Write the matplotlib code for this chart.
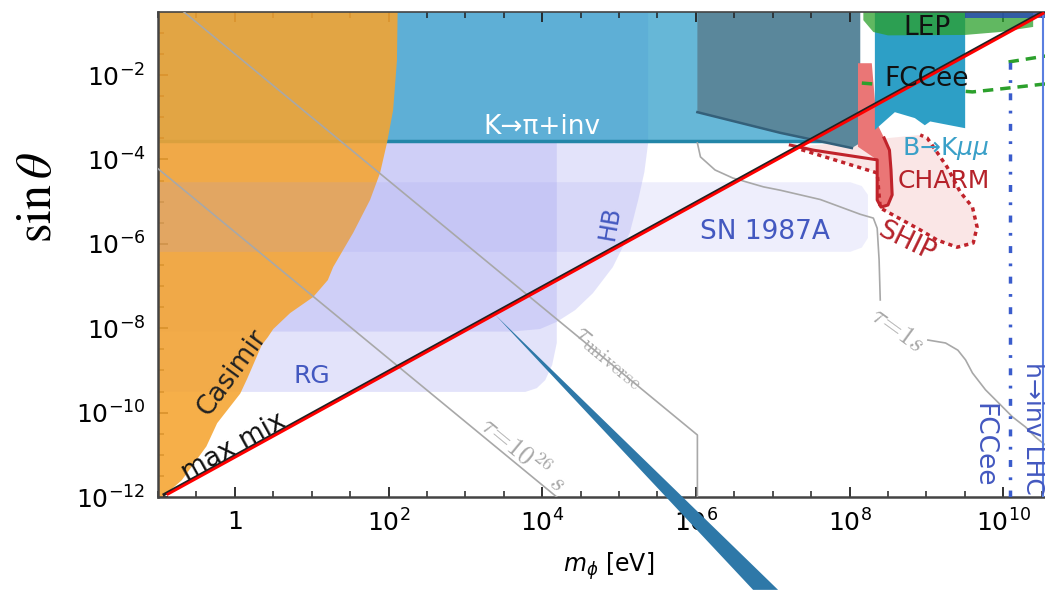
import numpy as np
import matplotlib
matplotlib.use("Agg")
import matplotlib.pyplot as plt
from matplotlib.ticker import FixedLocator, FixedFormatter, NullFormatter

# all boundaries below are (log10 m_phi [eV], log10 sin(theta))

# Casimir / fifth force
casimir_lm = [-0.94, -0.69, -0.37, -0.23, 0.07, 0.16, 0.35, 0.43, 0.50, 0.72, 1.02, 1.21,
              1.28, 1.54, 1.76, 1.89, 1.98, 2.06, 2.11, 2.12, -1.2, -1.2]
casimir_ls = [-12.0, -11.6, -10.8, -10.25, -9.55, -9.2, -8.4, -8.21, -8.02, -7.64, -7.26, -6.86,
              -6.55, -5.74, -4.96, -4.32, -3.61, -2.83, -1.65, -0.3, -0.3, -12.0]

# K -> pi + invisible
kpi_lm = [-1.2, 8.03, 8.03, -1.2]
kpi_ls = [-3.57, -3.57, -0.3, -0.3]

# stellar bounds
hb_lm = [-1.2, 5.38, 5.38, 5.33, 5.25, 5.14, 4.92, 4.66, 4.43, 4.19, 3.97, 3.6, -1.2]
hb_ls = [-0.3, -0.3, -3.6, -4.3, -4.96, -5.74, -6.55, -7.17, -7.57, -7.85, -8.02, -8.08, -8.08]
rg_lm = [-1.2, 4.19, 4.19, 4.13, 4.04, 3.93, 3.78, -1.2]
rg_ls = [-3.57, -3.57, -8.35, -8.87, -9.23, -9.42, -9.51, -9.51]
sn_lm = [-1.2, 8.01, 8.16, 8.24, 8.24, 8.16, 8.01, -1.2]
sn_ls = [-4.54, -4.54, -4.63, -4.84, -5.86, -6.09, -6.19, -6.19]

# beam dump / meson decays
box_lm = [6.02, 8.14, 8.14, 8.03, 7.10, 6.02]
box_ls = [-0.3, -0.3, -3.61, -3.73, -3.37, -2.88]
box_edge_lm = [6.02, 7.10, 8.03]
box_edge_ls = [-2.88, -3.37, -3.73]
charm_lm = [8.11, 8.29, 8.33, 8.37, 8.45, 8.52, 8.54, 8.555, 8.50, 8.41, 8.36, 8.36, 8.11]
charm_ls = [-1.72, -1.72, -2.59, -3.19, -3.49, -3.78, -4.25, -4.84, -5.08, -5.13, -4.96, -4.01, -3.7]
charm_edge_lm = [7.23, 7.53, 8.36, 8.36, 8.41, 8.50, 8.555, 8.54, 8.52, 8.45]
charm_edge_ls = [-3.66, -3.78, -4.01, -4.96, -5.13, -5.08, -4.84, -4.25, -3.78, -3.49]
ship_lm = [7.27, 8.36, 8.40, 8.92, 9.14, 9.40, 9.61, 9.66, 9.60, 9.44, 9.27, 9.12, 9.01, 8.92]
ship_ls = [-3.71, -4.32, -5.15, -5.67, -5.91, -6.08, -5.98, -5.60, -5.13, -4.77, -4.18, -3.78, -3.49, -3.42]
bkmm_lm = [8.33, 9.505, 9.505, 9.05, 8.98, 8.85, 8.59, 8.33]
bkmm_ls = [-0.3, -0.3, -3.26, -3.10, -3.19, -3.02, -2.88, -3.30]

# colliders
lep_lm = [8.18, 10.39, 10.39, 9.96, 9.5, 8.5, 8.31, 8.18]
lep_ls = [-0.3, -0.3, -0.86, -0.98, -1.05, -1.06, -0.98, -0.7]
hinv_top_lm = [9.505, 10.8, 10.8, 9.505]
hinv_top_ls = [-0.3, -0.3, -0.65, -0.65]
fcc_dash1_lm = [8.16, 9.60, 9.96, 10.55]
fcc_dash1_ls = [-2.19, -2.40, -2.33, -2.21]
fcc_dash2_lm = [10.07, 10.55]
fcc_dash2_ls = [-1.69, -1.55]
fcc_hinv_lm = 10.09
lhc_hinv_lm = 10.52

# lifetime contours
tau_univ_lm = [-1.0, 6.02, 6.02]
tau_univ_ls = [0.0, -10.53, -12.0]
tau_26_lm = [-1.0, 4.19]
tau_26_ls = [-4.22, -12.0]
tau_1s_a_lm = [6.02, 6.06, 6.25, 6.48, 6.88, 7.10, 7.62, 8.14, 8.31, 8.36, 8.385, 8.40]
tau_1s_a_ls = [-3.61, -3.94, -4.25, -4.44, -4.65, -4.73, -4.95, -5.30, -5.39, -5.63, -6.38, -7.33]
tau_1s_b_lm = [9.02, 9.25, 9.41, 9.51, 9.60, 9.77, 9.94, 10.12, 10.29, 10.42, 10.55]
tau_1s_b_ls = [-8.28, -8.35, -8.52, -8.75, -9.06, -9.46, -9.77, -10.10, -10.34, -10.58, -10.77]

# maximal mixing and the benchmark line
maxmix_lm = [-0.92, 10.6]
maxmix_ls = [-11.94, -0.42]
red_lm = [-0.87, 10.52]
red_ls = [-11.93, -0.54]
pointer_lm = [3.385, 6.745, 7.07]
pointer_ls = [-7.675, -14.2, -14.2]

x_ticks = [0, 2, 4, 6, 8, 10]
x_tick_labels = ['1', '$10^{2}$', '$10^{4}$', '$10^{6}$', '$10^{8}$', '$10^{10}$']
y_ticks = [-12, -10, -8, -6, -4, -2]
y_tick_labels = ['$10^{-12}$', '$10^{-10}$', '$10^{-8}$', '$10^{-6}$', '$10^{-4}$', '$10^{-2}$']


def p(v):
    return 10.0 ** np.asarray(v, dtype=float)


def region(ax, lm, ls, **kw):
    ax.fill(p(lm), p(ls), lw=0, **kw)


fig = plt.figure(figsize=(10.45, 5.9), dpi=100)
ax = fig.add_axes([0.1512, 0.1576, 0.8632, 0.822])
ax.set_xscale('log')
ax.set_yscale('log')

lav = '#9a9af0'
region(ax, hb_lm, hb_ls, color=lav, alpha=0.27, zorder=0.5)
region(ax, rg_lm, rg_ls, color=lav, alpha=0.27, zorder=0.6)
region(ax, kpi_lm, kpi_ls, color='#2b9cc8', alpha=0.72, zorder=1)
ax.plot(p([-1.2, 8.03]), p([-3.57, -3.57]), color='#2386a8', lw=2.5, zorder=1.1)
region(ax, ship_lm, ship_ls, color='#f8dcdc', alpha=0.7, zorder=1.2)
region(ax, box_lm, box_ls, color='#5a879b', zorder=1.5)
ax.plot(p(box_edge_lm), p(box_edge_ls), color='#34607a', lw=1.8, zorder=1.55)
region(ax, charm_lm, charm_ls, color='#ea7676', zorder=1.6)
ax.plot(p(fcc_dash1_lm), p(fcc_dash1_ls), color='#2ca02c', lw=2.5, ls=(0, (3, 2)), zorder=1.62)
ax.plot(p(fcc_dash2_lm), p(fcc_dash2_ls), color='#2ca02c', lw=2.5, ls=(0, (3, 2)), zorder=1.62)
region(ax, bkmm_lm, bkmm_ls, color='#2d9fc6', zorder=1.65)
region(ax, lep_lm, lep_ls, color='#2ca02c', alpha=0.75, zorder=1.7)
region(ax, hinv_top_lm, hinv_top_ls, color='#2a4db0', alpha=0.85, zorder=1.75)
region(ax, casimir_lm, casimir_ls, color='#f5a430', alpha=0.88, zorder=2)
region(ax, sn_lm, sn_ls, color=lav, alpha=0.16, zorder=2.5)

ax.plot(p(charm_edge_lm), p(charm_edge_ls), color='#c0232b', lw=2.2, zorder=2.6)
ax.plot(p(ship_lm), p(ship_ls), color='#c0232b', lw=2.5, ls=(0, (1.2, 1.2)), zorder=2.6)

grey = '#a8a8a8'
for lm, ls in [(tau_univ_lm, tau_univ_ls), (tau_26_lm, tau_26_ls),
               (tau_1s_a_lm, tau_1s_a_ls), (tau_1s_b_lm, tau_1s_b_ls)]:
    ax.plot(p(lm), p(ls), color=grey, lw=1.2, zorder=3)

ax.plot(p([fcc_hinv_lm] * 2), p([-12, -1.6]), color='#3a5ccc', lw=2.5,
        ls=(0, (2, 3, 0.8, 3)), zorder=3)
ax.plot(p([lhc_hinv_lm] * 2), p([-12, -0.6]), color='#5a7ee0', lw=1.5, zorder=3)

ax.plot(p(maxmix_lm), p(maxmix_ls), color='#222222', lw=2.2, zorder=4)
ax.plot(p(red_lm), p(red_ls), color='red', lw=2, zorder=4.1)
ax.fill(p(pointer_lm), p(pointer_ls), color='#2e78a8', lw=0, zorder=4.2, clip_on=False)

txt = dict(zorder=5, ha='center', va='center')
blue = '#4358c0'
ax.text(p(-0.03), p(-9.04), 'Casimir', fontsize=19, rotation=54, color='#222222', **txt)
ax.text(p(-0.01), p(-10.82), 'max mix', fontsize=19, rotation=29, color='#111111', **txt)
ax.text(p(1.0), p(-9.13), 'RG', fontsize=18, color=blue, **txt)
ax.text(p(4.88), p(-5.51), 'HB', fontsize=17, rotation=80, color=blue, **txt)
ax.text(p(6.90), p(-5.72), 'SN 1987A', fontsize=19, color=blue, **txt)
ax.text(p(4.0), p(-3.23), 'K→π+inv', fontsize=19, color='white', **txt)
ax.text(p(9.01), p(-0.89), 'LEP', fontsize=19, color='#111111', **txt)
ax.text(p(9.01), p(-2.09), 'FCCee', fontsize=19, color='#111111', **txt)
ax.text(p(9.245), p(-3.73), r'B→K$\mu\mu$', fontsize=18, color='#3aa0c8', **txt)
ax.text(p(9.23), p(-4.51), 'CHARM', fontsize=18, color='#b5222a', **txt)
ax.text(p(8.74), p(-5.96), 'SHIP', fontsize=19, rotation=-26, color='#b5222a', **txt)
ax.text(p(4.88), p(-8.64), r'$\tau_{\rm universe}$', fontsize=20, rotation=-39.5,
        color=grey, math_fontfamily='cm', **txt)
ax.text(p(3.75), p(-11.0), r'$\tau\!=\!10^{26}\ s$', fontsize=19, rotation=-39.5,
        color=grey, math_fontfamily='cm', **txt)
ax.text(p(8.62), p(-8.04), r'$\tau\!=\!1 s$', fontsize=19, rotation=-36,
        color=grey, math_fontfamily='cm', **txt)
ax.text(p(9.74), p(-10.77), 'FCCee', fontsize=19, rotation=-90, color=blue, **txt)
ax.text(p(10.39), p(-10.37), 'h→inv LHC', fontsize=18, rotation=-90, color=blue, **txt)

ax.set_xlim(p(-1.0), p(10.74))
ax.set_ylim(p(-12), p(-0.507))

ax.xaxis.set_major_locator(FixedLocator(p(x_ticks)))
ax.xaxis.set_major_formatter(FixedFormatter(x_tick_labels))
ax.xaxis.set_minor_locator(FixedLocator(p(np.arange(-1, 11, 0.5))))
ax.xaxis.set_minor_formatter(NullFormatter())
ax.yaxis.set_major_locator(FixedLocator(p(y_ticks)))
ax.yaxis.set_major_formatter(FixedFormatter(y_tick_labels))
ax.yaxis.set_minor_locator(FixedLocator(p(np.arange(-12, 0, 0.5))))
ax.yaxis.set_minor_formatter(NullFormatter())
ax.tick_params(which='both', direction='in', top=True, right=False, color='#222222',
               labelsize=18, pad=9)
ax.tick_params(which='major', length=7, width=1.3)
ax.tick_params(which='minor', length=4, width=1.1)
for side in ['left', 'bottom', 'top']:
    ax.spines[side].set_color('#444444')
    ax.spines[side].set_linewidth(1.8)
ax.spines['top'].set_linewidth(1.2)
ax.spines['right'].set_visible(False)

ax.set_xlabel(r'$m_\phi$ [eV]', fontsize=17, labelpad=10)
fig.text(0.035, 0.666, r'$\sin\theta$', fontsize=36, rotation=90, ha='center',
         va='center', math_fontfamily='stix')

fig.savefig('out.png', dpi=100)
